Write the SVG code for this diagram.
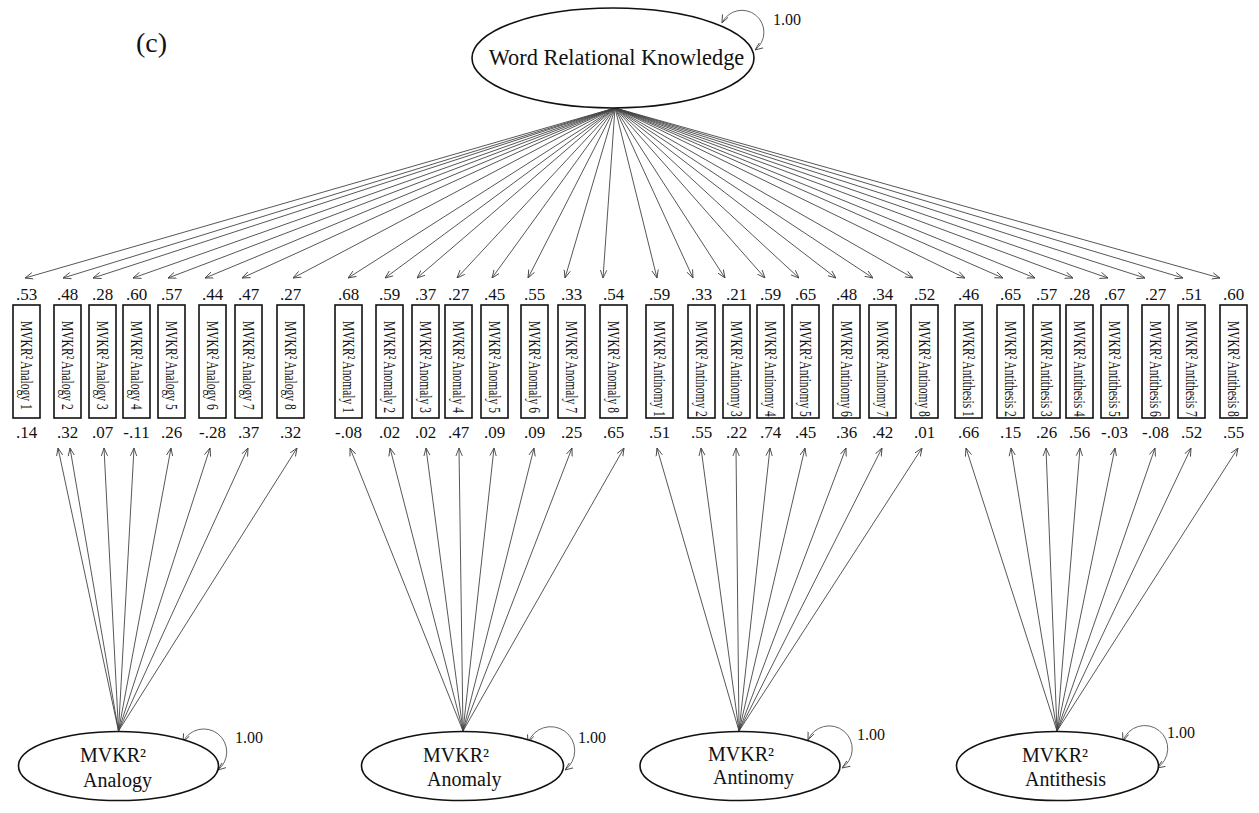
<svg xmlns="http://www.w3.org/2000/svg" width="1259" height="813" viewBox="0 0 1259 813">
  <style>
    text { font-family: "Liberation Serif", "Times New Roman", serif; fill: #111; }
    .lat { fill: #fff; stroke: #111; stroke-width: 1.6; }
    .box { fill: #fff; stroke: #111; stroke-width: 1.6; }
    .path { stroke: #444; stroke-width: 0.9; fill: none; marker-end: url(#ah); }
    .loop { stroke: #555; stroke-width: 0.9; fill: none; marker-start: url(#ah); marker-end: url(#ah); }
    .val { font-size: 17px; text-anchor: middle; }
    .ind { font-size: 17px; }
    .lname { font-size: 20px; }
    .var { font-size: 16px; }
  </style>
  <defs>
    <marker id="ah" viewBox="0 0 10 10" refX="10" refY="5" markerWidth="8" markerHeight="8" markerUnits="userSpaceOnUse" orient="auto-start-reverse">
      <path d="M0,1 L10,5 L0,9" fill="none" stroke="#444" stroke-width="1.1"/>
    </marker>
  </defs>

  <text x="136" y="52" font-size="28">(c)</text>

  <!-- loadings and variances -->
  <g id="connectors">
    <!-- general factor to indicators -->
    <line class="path" x1="615" y1="108" x2="25" y2="278"/>
    <line class="path" x1="615" y1="108" x2="63" y2="278"/>
    <line class="path" x1="615" y1="108" x2="93" y2="278"/>
    <line class="path" x1="615" y1="108" x2="133" y2="278"/>
    <line class="path" x1="615" y1="108" x2="168" y2="278"/>
    <line class="path" x1="615" y1="108" x2="205" y2="278"/>
    <line class="path" x1="615" y1="108" x2="242" y2="278"/>
    <line class="path" x1="615" y1="108" x2="293" y2="278"/>
    <line class="path" x1="615" y1="108" x2="348" y2="278"/>
    <line class="path" x1="615" y1="108" x2="385" y2="278"/>
    <line class="path" x1="615" y1="108" x2="417" y2="278"/>
    <line class="path" x1="615" y1="108" x2="457" y2="278"/>
    <line class="path" x1="615" y1="108" x2="492" y2="278"/>
    <line class="path" x1="615" y1="108" x2="528" y2="278"/>
    <line class="path" x1="615" y1="108" x2="565" y2="278"/>
    <line class="path" x1="615" y1="108" x2="603" y2="278"/>
    <line class="path" x1="615" y1="108" x2="657" y2="278"/>
    <line class="path" x1="615" y1="108" x2="693" y2="278"/>
    <line class="path" x1="615" y1="108" x2="725" y2="278"/>
    <line class="path" x1="615" y1="108" x2="765" y2="278"/>
    <line class="path" x1="615" y1="108" x2="799" y2="278"/>
    <line class="path" x1="615" y1="108" x2="836" y2="278"/>
    <line class="path" x1="615" y1="108" x2="873" y2="278"/>
    <line class="path" x1="615" y1="108" x2="913" y2="278"/>
    <line class="path" x1="615" y1="108" x2="965" y2="278"/>
    <line class="path" x1="615" y1="108" x2="1003" y2="278"/>
    <line class="path" x1="615" y1="108" x2="1035" y2="278"/>
    <line class="path" x1="615" y1="108" x2="1073" y2="278"/>
    <line class="path" x1="615" y1="108" x2="1108" y2="278"/>
    <line class="path" x1="615" y1="108" x2="1145" y2="278"/>
    <line class="path" x1="615" y1="108" x2="1183" y2="278"/>
    <line class="path" x1="615" y1="108" x2="1220" y2="278"/>

    <!-- Analogy factor -->
    <line class="path" x1="118.5" y1="731" x2="58" y2="448"/>
    <line class="path" x1="118.5" y1="731" x2="70" y2="448"/>
    <line class="path" x1="118.5" y1="731" x2="104" y2="448"/>
    <line class="path" x1="118.5" y1="731" x2="134" y2="448"/>
    <line class="path" x1="118.5" y1="731" x2="171" y2="448"/>
    <line class="path" x1="118.5" y1="731" x2="210" y2="448"/>
    <line class="path" x1="118.5" y1="731" x2="248" y2="448"/>
    <line class="path" x1="118.5" y1="731" x2="297" y2="448"/>
    <!-- Anomaly factor -->
    <line class="path" x1="463" y1="731" x2="350" y2="448"/>
    <line class="path" x1="463" y1="731" x2="390" y2="448"/>
    <line class="path" x1="463" y1="731" x2="426" y2="448"/>
    <line class="path" x1="463" y1="731" x2="459" y2="448"/>
    <line class="path" x1="463" y1="731" x2="494" y2="448"/>
    <line class="path" x1="463" y1="731" x2="534" y2="448"/>
    <line class="path" x1="463" y1="731" x2="572" y2="448"/>
    <line class="path" x1="463" y1="731" x2="624" y2="448"/>
    <!-- Antinomy factor -->
    <line class="path" x1="739" y1="731" x2="657" y2="448"/>
    <line class="path" x1="739" y1="731" x2="701" y2="448"/>
    <line class="path" x1="739" y1="731" x2="736" y2="448"/>
    <line class="path" x1="739" y1="731" x2="770" y2="448"/>
    <line class="path" x1="739" y1="731" x2="805" y2="448"/>
    <line class="path" x1="739" y1="731" x2="846" y2="448"/>
    <line class="path" x1="739" y1="731" x2="882" y2="448"/>
    <line class="path" x1="739" y1="731" x2="922" y2="448"/>
    <!-- Antithesis factor -->
    <line class="path" x1="1057" y1="731" x2="966" y2="448"/>
    <line class="path" x1="1057" y1="731" x2="1011" y2="448"/>
    <line class="path" x1="1057" y1="731" x2="1046" y2="448"/>
    <line class="path" x1="1057" y1="731" x2="1080" y2="448"/>
    <line class="path" x1="1057" y1="731" x2="1115" y2="448"/>
    <line class="path" x1="1057" y1="731" x2="1155" y2="448"/>
    <line class="path" x1="1057" y1="731" x2="1191" y2="448"/>
    <line class="path" x1="1057" y1="731" x2="1238" y2="448"/>

    <!-- factor variances -->
    <path class="loop" d="M722,23 A22,22 0 1 1 755,50"/>
    <path class="loop" d="M183,742 A23,23 0 1 1 218,770"/>
    <path class="loop" d="M528,743 A24,24 0 1 1 565,770"/>
    <path class="loop" d="M808,740 A23,23 0 1 1 842,768"/>
    <path class="loop" d="M1123,741 A23,23 0 1 1 1157,768"/>
  </g>

  <!-- general factor -->
  <g id="wrk">
    <ellipse class="lat" cx="613" cy="58" rx="141" ry="50"/>
    <text x="616.5" y="65" font-size="22.4" text-anchor="middle">Word Relational Knowledge</text>
    <text class="var" x="773" y="25">1.00</text>
  </g>

  <!-- specific factors -->
  <g id="f-analogy">
    <ellipse class="lat" cx="118.5" cy="766" rx="100" ry="34.5"/>
    <text class="lname" x="80" y="762">MVKR²</text>
    <text class="lname" x="83" y="787">Analogy</text>
    <text class="var" x="235" y="743">1.00</text>
  </g>
  <g id="f-anomaly">
    <ellipse class="lat" cx="462.5" cy="766" rx="101" ry="34.5"/>
    <text class="lname" x="423" y="762">MVKR²</text>
    <text class="lname" x="427" y="786">Anomaly</text>
    <text class="var" x="578" y="743">1.00</text>
  </g>
  <g id="f-antinomy">
    <ellipse class="lat" cx="740" cy="766" rx="100" ry="34.5"/>
    <text class="lname" x="708" y="761">MVKR²</text>
    <text class="lname" x="713" y="784">Antinomy</text>
    <text class="var" x="857" y="740">1.00</text>
  </g>
  <g id="f-antithesis">
    <ellipse class="lat" cx="1057.5" cy="766" rx="101" ry="34.5"/>
    <text class="lname" x="1022" y="762">MVKR²</text>
    <text class="lname" x="1025" y="786">Antithesis</text>
    <text class="var" x="1167" y="738">1.00</text>
  </g>

  <!-- Analogy indicators -->
  <g id="an1"><rect class="box" x="13" y="305" width="27" height="113"/><text class="val" x="26.5" y="300">.53</text><text class="ind" transform="translate(26.5,321) rotate(90) scale(0.68,1)" y="5.6">MVKR² Analogy 1</text><text class="val" x="26.5" y="438">.14</text></g>
  <g id="an2"><rect class="box" x="54" y="305" width="27" height="113"/><text class="val" x="67.5" y="300">.48</text><text class="ind" transform="translate(67.5,321) rotate(90) scale(0.68,1)" y="5.6">MVKR² Analogy 2</text><text class="val" x="67.5" y="438">.32</text></g>
  <g id="an3"><rect class="box" x="89" y="305" width="27" height="113"/><text class="val" x="102.5" y="300">.28</text><text class="ind" transform="translate(102.5,321) rotate(90) scale(0.68,1)" y="5.6">MVKR² Analogy 3</text><text class="val" x="102.5" y="438">.07</text></g>
  <g id="an4"><rect class="box" x="123" y="305" width="27" height="113"/><text class="val" x="136.5" y="300">.60</text><text class="ind" transform="translate(136.5,321) rotate(90) scale(0.68,1)" y="5.6">MVKR² Analogy 4</text><text class="val" x="136.5" y="438">-.11</text></g>
  <g id="an5"><rect class="box" x="158" y="305" width="27" height="113"/><text class="val" x="171.5" y="300">.57</text><text class="ind" transform="translate(171.5,321) rotate(90) scale(0.68,1)" y="5.6">MVKR² Analogy 5</text><text class="val" x="171.5" y="438">.26</text></g>
  <g id="an6"><rect class="box" x="199" y="305" width="27" height="113"/><text class="val" x="212.5" y="300">.44</text><text class="ind" transform="translate(212.5,321) rotate(90) scale(0.68,1)" y="5.6">MVKR² Analogy 6</text><text class="val" x="212.5" y="438">-.28</text></g>
  <g id="an7"><rect class="box" x="235" y="305" width="27" height="113"/><text class="val" x="248.5" y="300">.47</text><text class="ind" transform="translate(248.5,321) rotate(90) scale(0.68,1)" y="5.6">MVKR² Analogy 7</text><text class="val" x="248.5" y="438">.37</text></g>
  <g id="an8"><rect class="box" x="277" y="305" width="27" height="113"/><text class="val" x="290.5" y="300">.27</text><text class="ind" transform="translate(290.5,321) rotate(90) scale(0.68,1)" y="5.6">MVKR² Analogy 8</text><text class="val" x="290.5" y="438">.32</text></g>

  <!-- Anomaly indicators -->
  <g id="am1"><rect class="box" x="335" y="305" width="27" height="113"/><text class="val" x="348.5" y="300">.68</text><text class="ind" transform="translate(348.5,321) rotate(90) scale(0.68,1)" y="5.6">MVKR² Anomaly 1</text><text class="val" x="348.5" y="438">-.08</text></g>
  <g id="am2"><rect class="box" x="376" y="305" width="27" height="113"/><text class="val" x="389.5" y="300">.59</text><text class="ind" transform="translate(389.5,321) rotate(90) scale(0.68,1)" y="5.6">MVKR² Anomaly 2</text><text class="val" x="389.5" y="438">.02</text></g>
  <g id="am3"><rect class="box" x="412" y="305" width="27" height="113"/><text class="val" x="425.5" y="300">.37</text><text class="ind" transform="translate(425.5,321) rotate(90) scale(0.68,1)" y="5.6">MVKR² Anomaly 3</text><text class="val" x="425.5" y="438">.02</text></g>
  <g id="am4"><rect class="box" x="445" y="305" width="27" height="113"/><text class="val" x="458.5" y="300">.27</text><text class="ind" transform="translate(458.5,321) rotate(90) scale(0.68,1)" y="5.6">MVKR² Anomaly 4</text><text class="val" x="458.5" y="438">.47</text></g>
  <g id="am5"><rect class="box" x="481" y="305" width="27" height="113"/><text class="val" x="494.5" y="300">.45</text><text class="ind" transform="translate(494.5,321) rotate(90) scale(0.68,1)" y="5.6">MVKR² Anomaly 5</text><text class="val" x="494.5" y="438">.09</text></g>
  <g id="am6"><rect class="box" x="521" y="305" width="27" height="113"/><text class="val" x="534.5" y="300">.55</text><text class="ind" transform="translate(534.5,321) rotate(90) scale(0.68,1)" y="5.6">MVKR² Anomaly 6</text><text class="val" x="534.5" y="438">.09</text></g>
  <g id="am7"><rect class="box" x="558" y="305" width="27" height="113"/><text class="val" x="571.5" y="300">.33</text><text class="ind" transform="translate(571.5,321) rotate(90) scale(0.68,1)" y="5.6">MVKR² Anomaly 7</text><text class="val" x="571.5" y="438">.25</text></g>
  <g id="am8"><rect class="box" x="600" y="305" width="27" height="113"/><text class="val" x="613.5" y="300">.54</text><text class="ind" transform="translate(613.5,321) rotate(90) scale(0.68,1)" y="5.6">MVKR² Anomaly 8</text><text class="val" x="613.5" y="438">.65</text></g>

  <!-- Antinomy indicators -->
  <g id="at1"><rect class="box" x="646" y="305" width="27" height="113"/><text class="val" x="659.5" y="300">.59</text><text class="ind" transform="translate(659.5,321) rotate(90) scale(0.68,1)" y="5.6">MVKR² Antinomy 1</text><text class="val" x="659.5" y="438">.51</text></g>
  <g id="at2"><rect class="box" x="688" y="305" width="27" height="113"/><text class="val" x="701.5" y="300">.33</text><text class="ind" transform="translate(701.5,321) rotate(90) scale(0.68,1)" y="5.6">MVKR² Antinomy 2</text><text class="val" x="701.5" y="438">.55</text></g>
  <g id="at3"><rect class="box" x="723" y="305" width="27" height="113"/><text class="val" x="736.5" y="300">.21</text><text class="ind" transform="translate(736.5,321) rotate(90) scale(0.68,1)" y="5.6">MVKR² Antinomy 3</text><text class="val" x="736.5" y="438">.22</text></g>
  <g id="at4"><rect class="box" x="757" y="305" width="27" height="113"/><text class="val" x="770.5" y="300">.59</text><text class="ind" transform="translate(770.5,321) rotate(90) scale(0.68,1)" y="5.6">MVKR² Antinomy 4</text><text class="val" x="770.5" y="438">.74</text></g>
  <g id="at5"><rect class="box" x="792" y="305" width="27" height="113"/><text class="val" x="805.5" y="300">.65</text><text class="ind" transform="translate(805.5,321) rotate(90) scale(0.68,1)" y="5.6">MVKR² Antinomy 5</text><text class="val" x="805.5" y="438">.45</text></g>
  <g id="at6"><rect class="box" x="833" y="305" width="27" height="113"/><text class="val" x="846.5" y="300">.48</text><text class="ind" transform="translate(846.5,321) rotate(90) scale(0.68,1)" y="5.6">MVKR² Antinomy 6</text><text class="val" x="846.5" y="438">.36</text></g>
  <g id="at7"><rect class="box" x="869" y="305" width="27" height="113"/><text class="val" x="882.5" y="300">.34</text><text class="ind" transform="translate(882.5,321) rotate(90) scale(0.68,1)" y="5.6">MVKR² Antinomy 7</text><text class="val" x="882.5" y="438">.42</text></g>
  <g id="at8"><rect class="box" x="911" y="305" width="27" height="113"/><text class="val" x="924.5" y="300">.52</text><text class="ind" transform="translate(924.5,321) rotate(90) scale(0.68,1)" y="5.6">MVKR² Antinomy 8</text><text class="val" x="924.5" y="438">.01</text></g>

  <!-- Antithesis indicators -->
  <g id="ath1"><rect class="box" x="955" y="305" width="27" height="113"/><text class="val" x="968.5" y="300">.46</text><text class="ind" transform="translate(968.5,321) rotate(90) scale(0.68,1)" y="5.6">MVKR² Antithesis 1</text><text class="val" x="968.5" y="438">.66</text></g>
  <g id="ath2"><rect class="box" x="997" y="305" width="27" height="113"/><text class="val" x="1010.5" y="300">.65</text><text class="ind" transform="translate(1010.5,321) rotate(90) scale(0.68,1)" y="5.6">MVKR² Antithesis 2</text><text class="val" x="1010.5" y="438">.15</text></g>
  <g id="ath3"><rect class="box" x="1033" y="305" width="27" height="113"/><text class="val" x="1046.5" y="300">.57</text><text class="ind" transform="translate(1046.5,321) rotate(90) scale(0.68,1)" y="5.6">MVKR² Antithesis 3</text><text class="val" x="1046.5" y="438">.26</text></g>
  <g id="ath4"><rect class="box" x="1066" y="305" width="27" height="113"/><text class="val" x="1079.5" y="300">.28</text><text class="ind" transform="translate(1079.5,321) rotate(90) scale(0.68,1)" y="5.6">MVKR² Antithesis 4</text><text class="val" x="1079.5" y="438">.56</text></g>
  <g id="ath5"><rect class="box" x="1101" y="305" width="27" height="113"/><text class="val" x="1114.5" y="300">.67</text><text class="ind" transform="translate(1114.5,321) rotate(90) scale(0.68,1)" y="5.6">MVKR² Antithesis 5</text><text class="val" x="1114.5" y="438">-.03</text></g>
  <g id="ath6"><rect class="box" x="1142" y="305" width="27" height="113"/><text class="val" x="1155.5" y="300">.27</text><text class="ind" transform="translate(1155.5,321) rotate(90) scale(0.68,1)" y="5.6">MVKR² Antithesis 6</text><text class="val" x="1155.5" y="438">-.08</text></g>
  <g id="ath7"><rect class="box" x="1178" y="305" width="27" height="113"/><text class="val" x="1191.5" y="300">.51</text><text class="ind" transform="translate(1191.5,321) rotate(90) scale(0.68,1)" y="5.6">MVKR² Antithesis 7</text><text class="val" x="1191.5" y="438">.52</text></g>
  <g id="ath8"><rect class="box" x="1220" y="305" width="27" height="113"/><text class="val" x="1233.5" y="300">.60</text><text class="ind" transform="translate(1233.5,321) rotate(90) scale(0.68,1)" y="5.6">MVKR² Antithesis 8</text><text class="val" x="1233.5" y="438">.55</text></g>
</svg>
